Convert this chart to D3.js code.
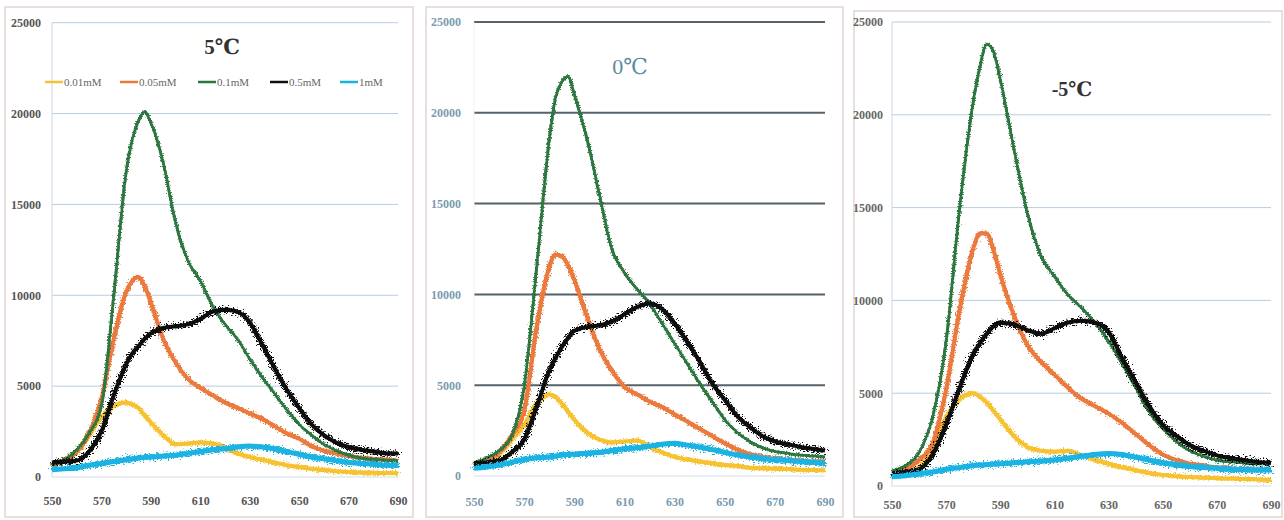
<!DOCTYPE html>
<html><head><meta charset="utf-8">
<script src="https://cdn.jsdelivr.net/npm/d3@7"></script>
<style>
html,body{margin:0;padding:0;background:#fff;}
svg{display:block;}
</style></head>
<body>
<svg id="chart" width="1284" height="520"></svg>
<script>
// ---------- DATA ----------
const wavelengths = [550,555,560,565,570,575,580,582.5,585,587.5,590,595,600,605,610,615,620,625,630,635,640,645,650,655,660,665,670,675,680,685,690];
const seriesNames = ["0.01mM","0.05mM","0.1mM","0.5mM","1mM"];
const xTicks = [550,570,590,610,630,650,670,690];
const yTicks = [0,5000,10000,15000,20000,25000];
const panelTitles = ["5℃","0℃","-5℃"];

// 5℃
const p5_001 = [700,900,1400,2300,3300,3900,4100,4000,3800,3400,3000,2300,1800,1850,1900,1850,1600,1300,1100,950,800,650,550,450,380,320,280,250,230,220,200];
const p5_005 = [650,900,1400,2400,4300,7600,10200,10800,11000,10500,9600,7600,6300,5400,4900,4500,4100,3800,3500,3200,2800,2400,2100,1700,1450,1300,1150,1050,1000,950,900];
const p5_01  = [700,950,1500,2400,3900,10000,16800,18600,19600,20100,19500,17300,14000,11900,10800,9400,8400,7600,6500,5500,4600,3700,2900,2300,1800,1450,1200,1050,960,920,900];
const p5_05  = [800,850,900,1400,2500,4500,6200,6800,7200,7600,7900,8200,8300,8400,8700,9100,9200,9100,8500,7300,6000,4800,3800,2900,2300,1900,1650,1500,1400,1300,1300];
const p5_1   = [400,450,500,650,750,850,950,1000,1050,1080,1100,1150,1200,1300,1400,1500,1550,1650,1700,1650,1550,1400,1250,1100,1000,900,800,750,700,650,650];

// 0℃
const p0_001 = [600,800,1200,2000,2800,4000,4500,4350,4000,3550,3100,2400,2000,1850,1900,1950,1600,1300,1050,900,800,700,600,550,450,420,400,380,350,330,320];
const p0_005 = [650,850,1300,2200,3600,8200,11500,12200,12100,11600,10800,8800,7000,5800,4900,4500,4100,3800,3400,3000,2600,2200,1800,1450,1200,1050,950,900,850,800,800];
const p0_01  = [700,1000,1400,2200,4900,11500,18500,20800,21700,22000,21000,18600,15500,12500,11200,10300,9500,8400,7300,6200,5100,4100,3100,2400,1900,1550,1350,1250,1150,1100,1050];
const p0_05  = [700,750,850,1300,2000,3800,5800,6500,7100,7600,8000,8200,8300,8500,8900,9300,9500,9200,8400,7400,6300,5100,4200,3300,2700,2200,1900,1750,1600,1500,1400];
const p0_1   = [420,500,600,750,900,1000,1050,1100,1150,1180,1200,1250,1300,1400,1500,1550,1650,1750,1800,1700,1600,1450,1300,1150,1050,950,900,850,800,750,700];

// -5℃
const pm5_001 = [500,650,1000,2000,3700,4700,5000,4800,4500,4050,3600,2700,2100,1900,1850,1900,1650,1400,1200,1000,850,700,600,530,480,450,420,400,380,350,320];
const pm5_005 = [700,900,1400,2300,5200,9500,12800,13600,13600,12700,11400,9200,7600,6700,6000,5300,4700,4300,3900,3400,2800,2200,1700,1400,1200,1100,1000,950,900,880,860];
const pm5_01  = [800,1100,1800,3700,7800,15000,20700,22600,23800,23400,21900,18200,14700,12400,11300,10300,9600,8800,7800,6600,5300,4000,3100,2400,1900,1600,1400,1300,1250,1200,1200];
const pm5_05  = [680,750,900,1700,3300,5300,7100,7700,8200,8600,8800,8700,8400,8200,8500,8800,8900,8800,8300,6900,5600,4300,3300,2700,2200,1900,1650,1500,1400,1300,1250];
const pm5_1   = [500,550,650,750,900,1000,1100,1130,1150,1180,1200,1250,1300,1350,1400,1500,1600,1700,1750,1700,1550,1400,1250,1150,1050,1000,950,900,880,860,860];

const panelSeries = [
  [p5_001,p5_005,p5_01,p5_05,p5_1],
  [p0_001,p0_005,p0_01,p0_05,p0_1],
  [pm5_001,pm5_005,pm5_01,pm5_05,pm5_1]
];

// ---------- STYLE / LAYOUT ----------
const colors = ["#f6c232","#ea7a3d","#2d7640","#111111","#1ab2e2"];
const coreW = [4,4,2.5,4,5];
const noiseW = [4,4,3,4.5,5];
const panels = [
  {frame:[5,7,408,510], x0:52, x1:398, y0:477, y1:22.7, grid:"#b9cde0", gridW:1, lab:"#555", labX:41, xLabY:506,
   title:{x:222,y:54,size:21,weight:"bold",color:"#333"}},
  {frame:[426,7,417,510], x0:474, x1:825, y0:476, y1:22, grid:"#55626a", gridW:2, lab:"#7a9ab0", labX:461, xLabY:507,
   title:{x:630,y:74,size:22,weight:"normal",color:"#5d8aa2"}},
  {frame:[854,11,428,506], x0:892, x1:1271, y0:486, y1:22, grid:"#b9cde0", gridW:1, lab:"#666", labX:883, xLabY:510,
   title:{x:1072,y:96,size:20,weight:"bold",color:"#333"}}
];

const svg = d3.select("#chart");
const defs = svg.append("defs");
function noiseFilter(id, freq, scale, seed){
  const f = defs.append("filter").attr("id",id).attr("x","-5%").attr("y","-5%").attr("width","110%").attr("height","110%");
  f.append("feTurbulence").attr("type","fractalNoise").attr("baseFrequency",freq).attr("numOctaves",2).attr("seed",seed).attr("result","t");
  f.append("feDisplacementMap").attr("in","SourceGraphic").attr("in2","t").attr("scale",scale).attr("xChannelSelector","R").attr("yChannelSelector","G");
}
noiseFilter("nz0","0.6 0.9",8,2);
noiseFilter("nz1","0.6 0.9",8,5);
noiseFilter("nz2","0.6 0.9",5,7);
noiseFilter("nz3","0.6 0.9",13,9);
noiseFilter("nz4","0.6 0.9",12,11);

const font = "'Liberation Serif','DejaVu Serif',serif";

panels.forEach((p, pi) => {
  const g = svg.append("g");
  const [fx,fy,fw,fh] = p.frame;
  g.append("rect").attr("x",fx).attr("y",fy).attr("width",fw).attr("height",fh)
    .attr("fill","#fff").attr("stroke","#e2d6d2").attr("stroke-width",1.5);

  const x = d3.scaleLinear().domain([550,690]).range([p.x0,p.x1]);
  const y = d3.scaleLinear().domain([0,25000]).range([p.y0,p.y1]);

  // gridlines
  g.append("g").selectAll("line").data(yTicks.filter(v=>v>0)).join("line")
    .attr("x1",p.x0).attr("x2",p.x1).attr("y1",d=>y(d)).attr("y2",d=>y(d))
    .attr("stroke",p.grid).attr("stroke-width",p.gridW);
  // y axis line
  g.append("line").attr("x1",p.x0).attr("x2",p.x0).attr("y1",p.y0).attr("y2",p.y1)
    .attr("stroke", pi===1 ? "#eef2f5" : "#c9d9e6").attr("stroke-width",1);
  // x axis line
  g.append("line").attr("x1",p.x0).attr("x2",p.x1).attr("y1",p.y0).attr("y2",p.y0)
    .attr("stroke","#d0dce6").attr("stroke-width",1);

  // y axis labels
  const yAxis = d3.axisLeft(y).tickValues(yTicks).tickSize(0).tickPadding(0).tickFormat(d3.format("d"));
  const ya = g.append("g").attr("transform",`translate(${p.labX},0)`).call(yAxis);
  ya.select(".domain").remove();
  ya.selectAll("text").attr("fill",p.lab).attr("font-family",font).attr("font-size",12).attr("font-weight","bold");

  // x axis labels
  const xAxis = d3.axisBottom(x).tickValues(xTicks).tickSize(0).tickPadding(0).tickFormat(d3.format("d"));
  const xa = g.append("g").attr("transform",`translate(0,${p.xLabY-10})`).call(xAxis);
  xa.select(".domain").remove();
  xa.selectAll("text").attr("fill",p.lab).attr("font-family",font).attr("font-size",12).attr("font-weight","bold");

  // lines: solid core + jagged noisy overlay
  const line = d3.line().x((d,i)=>x(wavelengths[i])).y(d=>y(d)).curve(d3.curveMonotoneX);
  panelSeries[pi].forEach((vals, si) => {
    const sg = g.append("g");
    sg.append("path").datum(vals).attr("d",line)
      .attr("fill","none").attr("stroke",colors[si]).attr("stroke-width",coreW[si])
      .attr("stroke-linejoin","round");
    sg.append("path").datum(vals).attr("d",line)
      .attr("fill","none").attr("stroke",colors[si]).attr("stroke-width",noiseW[si])
      .attr("stroke-linejoin","round").attr("filter",`url(#nz${si})`);
  });

  // title
  g.append("text").attr("x",p.title.x).attr("y",p.title.y).attr("text-anchor","middle")
    .attr("font-family",font).attr("font-size",p.title.size).attr("font-weight",p.title.weight)
    .attr("fill",p.title.color).text(panelTitles[pi]);
});

// legend (first panel only)
const legX = [45,120,198,270,340];
const lg = svg.append("g");
seriesNames.forEach((n,i) => {
  lg.append("line").attr("x1",legX[i]).attr("x2",legX[i]+18).attr("y1",82).attr("y2",82)
    .attr("stroke",colors[i]).attr("stroke-width",2.5);
  lg.append("text").attr("x",legX[i]+19).attr("y",86).attr("font-family",font).attr("font-size",11)
    .attr("fill","#666").text(n);
});
</script>
</body></html>
